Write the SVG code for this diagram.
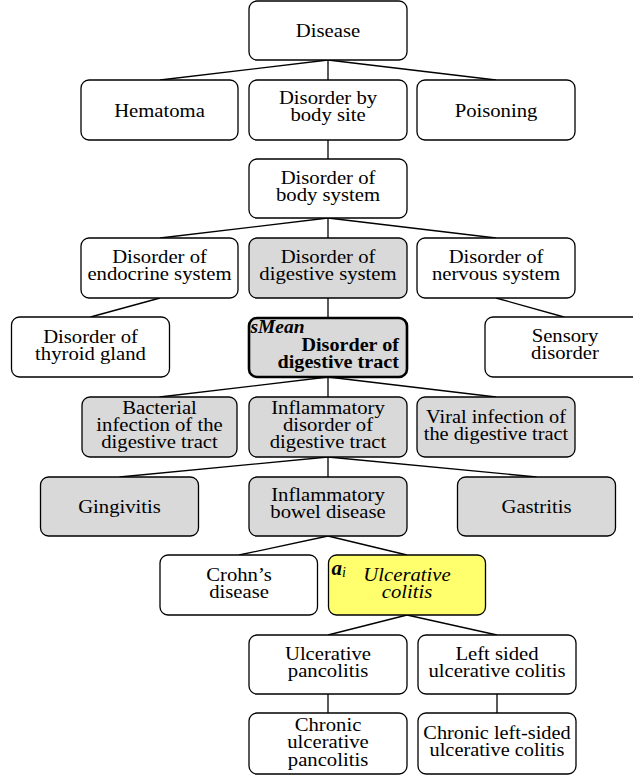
<svg xmlns="http://www.w3.org/2000/svg" width="633" height="778" viewBox="0 0 633 778">
<style>
.box{fill:#fff;stroke:#000;stroke-width:1.3}
.gray{fill:#d9d9d9}
.yel{fill:#ffff6e}
.main{fill:#d9d9d9;stroke:#000;stroke-width:2.6}
text{font-family:'Liberation Serif','DejaVu Serif',serif;font-size:18px;text-anchor:middle;fill:#000}
.b{font-weight:bold}
.i{font-style:italic}
.c line{stroke:#000;stroke-width:1.3}
</style>
<rect width="633" height="778" fill="#fff"/>
<g class="c" id="connectors">
<line x1="328" y1="60" x2="160" y2="80"/><line x1="328" y1="60" x2="328" y2="80"/><line x1="328" y1="60" x2="496" y2="80"/>
<line x1="328" y1="140" x2="328" y2="159"/>
<line x1="328" y1="218" x2="160" y2="238"/><line x1="328" y1="218" x2="328" y2="238"/><line x1="328" y1="218" x2="496" y2="238"/>
<line x1="160" y1="298" x2="90.5" y2="317"/><line x1="328" y1="298" x2="328" y2="317"/><line x1="496" y1="298" x2="564" y2="317"/>
<line x1="328" y1="377" x2="159.5" y2="397"/><line x1="328" y1="377" x2="328" y2="397"/><line x1="328" y1="377" x2="496" y2="397"/>
<line x1="328" y1="457" x2="119.5" y2="477"/><line x1="328" y1="457" x2="328" y2="477"/><line x1="328" y1="457" x2="536.5" y2="477"/>
<line x1="328" y1="536" x2="239" y2="555"/><line x1="328" y1="536" x2="407" y2="555"/>
<line x1="407" y1="615" x2="328" y2="635"/><line x1="407" y1="615" x2="497" y2="635"/>
<line x1="328" y1="694" x2="328" y2="713"/><line x1="497" y1="694" x2="497" y2="713"/>
</g>
<g id="disease"><rect class="box" x="249" y="1" width="158" height="59" rx="8"/>
<text transform="translate(328,0) scale(1.15,1)"><tspan x="0" y="37.5">Disease</tspan></text></g>
<g id="hematoma"><rect class="box" x="81" y="80" width="157" height="60" rx="8"/>
<text transform="translate(159.5,0) scale(1.15,1)"><tspan x="0" y="117">Hematoma</tspan></text></g>
<g id="bodysite"><rect class="box" x="249" y="80" width="158" height="60" rx="8"/>
<text transform="translate(328,0) scale(1.15,1)"><tspan x="0" y="104.5">Disorder by</tspan><tspan x="0" y="121.5">body site</tspan></text></g>
<g id="poisoning"><rect class="box" x="417" y="80" width="158" height="60" rx="8"/>
<text transform="translate(496,0) scale(1.15,1)"><tspan x="0" y="117">Poisoning</tspan></text></g>
<g id="bodysystem"><rect class="box" x="249" y="159" width="158" height="59" rx="8"/>
<text transform="translate(328,0) scale(1.15,1)"><tspan x="0" y="184.5">Disorder of</tspan><tspan x="0" y="201.5">body system</tspan></text></g>
<g id="endocrine"><rect class="box" x="81" y="238" width="157" height="60" rx="8"/>
<text transform="translate(159.5,0) scale(1.15,1)"><tspan x="0" y="263.5">Disorder of</tspan><tspan x="0" y="280.5">endocrine system</tspan></text></g>
<g id="digestivesystem"><rect class="box gray" x="249" y="238" width="158" height="60" rx="8"/>
<text transform="translate(328,0) scale(1.15,1)"><tspan x="0" y="263.5">Disorder of</tspan><tspan x="0" y="280.5">digestive system</tspan></text></g>
<g id="nervous"><rect class="box" x="417" y="238" width="158" height="60" rx="8"/>
<text transform="translate(496,0) scale(1.15,1)"><tspan x="0" y="263.5">Disorder of</tspan><tspan x="0" y="280.5">nervous system</tspan></text></g>
<g id="thyroid"><rect class="box" x="11.5" y="317" width="158" height="60" rx="8"/>
<text transform="translate(90.5,0) scale(1.15,1)"><tspan x="0" y="343">Disorder of</tspan><tspan x="0" y="360">thyroid gland</tspan></text></g>
<g id="digestivetract"><rect class="main" x="249" y="318" width="158" height="59" rx="8"/>
<text class="i b" style="text-anchor:start" transform="translate(250.5,0) scale(1.08,1)"><tspan x="0" y="333">sMean</tspan></text>
<text class="b" style="text-anchor:end" transform="translate(399,0) scale(1.12,1)"><tspan x="0" y="351">Disorder of</tspan><tspan x="0" y="368">digestive tract</tspan></text></g>
<g id="sensory"><rect class="box" x="485" y="317" width="158" height="60" rx="8"/>
<text transform="translate(565,0) scale(1.15,1)"><tspan x="0" y="342">Sensory</tspan><tspan x="0" y="359">disorder</tspan></text></g>
<g id="bacterial"><rect class="box gray" x="82" y="397" width="155" height="60" rx="8"/>
<text transform="translate(159.5,0) scale(1.15,1)"><tspan x="0" y="414">Bacterial</tspan><tspan x="0" y="431">infection of the</tspan><tspan x="0" y="448">digestive tract</tspan></text></g>
<g id="inflammatory"><rect class="box gray" x="249" y="397" width="158" height="60" rx="8"/>
<text transform="translate(328,0) scale(1.15,1)"><tspan x="0" y="414">Inflammatory</tspan><tspan x="0" y="431">disorder of</tspan><tspan x="0" y="448">digestive tract</tspan></text></g>
<g id="viral"><rect class="box gray" x="417" y="397" width="158" height="60" rx="8"/>
<text transform="translate(496,0) scale(1.13,1)"><tspan x="0" y="423">Viral infection of</tspan><tspan x="0" y="440">the digestive tract</tspan></text></g>
<g id="gingivitis"><rect class="box gray" x="40.5" y="477" width="158" height="59" rx="8"/>
<text transform="translate(119.5,0) scale(1.15,1)"><tspan x="0" y="513.5">Gingivitis</tspan></text></g>
<g id="ibd"><rect class="box gray" x="249" y="477" width="158" height="59" rx="8"/>
<text transform="translate(328,0) scale(1.15,1)"><tspan x="0" y="501.5">Inflammatory</tspan><tspan x="0" y="518.5">bowel disease</tspan></text></g>
<g id="gastritis"><rect class="box gray" x="457.5" y="477" width="158" height="59" rx="8"/>
<text transform="translate(536.5,0) scale(1.15,1)"><tspan x="0" y="513.5">Gastritis</tspan></text></g>
<g id="crohns"><rect class="box" x="160" y="555" width="157.5" height="60" rx="8"/>
<text transform="translate(239,0) scale(1.15,1)"><tspan x="0" y="581">Crohn’s</tspan><tspan x="0" y="598">disease</tspan></text></g>
<g id="ulcerative"><rect class="box yel" x="328.5" y="555" width="157" height="60" rx="8"/>
<text class="i b" style="text-anchor:start;font-size:21px" x="331.5" y="575">a<tspan style="font-weight:normal;font-size:14px" dy="2">i</tspan></text>
<text class="i" transform="translate(407,0) scale(1.15,1)"><tspan x="0" y="581">Ulcerative</tspan><tspan x="0" y="598">colitis</tspan></text></g>
<g id="pancolitis"><rect class="box" x="249" y="635" width="158" height="59" rx="8"/>
<text transform="translate(328,0) scale(1.15,1)"><tspan x="0" y="660.5">Ulcerative</tspan><tspan x="0" y="677.5">pancolitis</tspan></text></g>
<g id="leftsided"><rect class="box" x="418" y="635" width="158" height="59" rx="8"/>
<text transform="translate(497,0) scale(1.15,1)"><tspan x="0" y="660.5">Left sided</tspan><tspan x="0" y="677.5">ulcerative colitis</tspan></text></g>
<g id="chronicpancolitis"><rect class="box" x="249" y="713" width="158" height="61" rx="8"/>
<text transform="translate(328,0) scale(1.15,1)"><tspan x="0" y="731">Chronic</tspan><tspan x="0" y="748.5">ulcerative</tspan><tspan x="0" y="766">pancolitis</tspan></text></g>
<g id="chronicleftsided"><rect class="box" x="418" y="713" width="158" height="61" rx="8"/>
<text transform="translate(497,0) scale(1.13,1)"><tspan x="0" y="739">Chronic left-sided</tspan><tspan x="0" y="756">ulcerative colitis</tspan></text></g>
</svg>
